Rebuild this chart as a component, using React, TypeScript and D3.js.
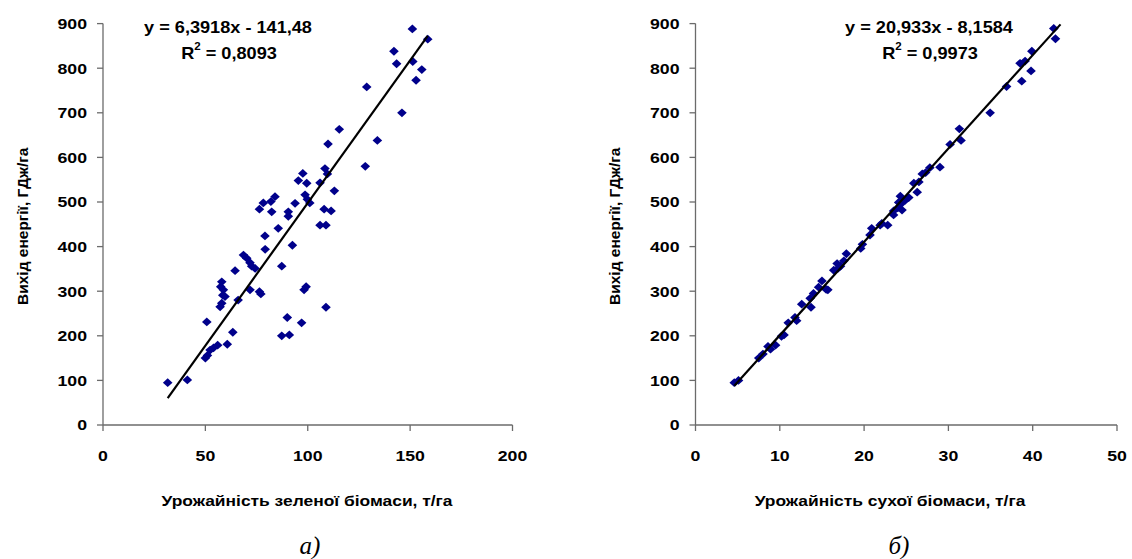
import React, { useEffect, useRef } from "react";
import * as d3 from "d3";

const WIDTH = 1132;
const HEIGHT = 559;

// урожайність зеленої біомаси, т/га
const greenYield = [
  31.6, 41.2, 50, 51, 52.3, 54, 56, 50.7, 60.7, 63.4, 57.2, 58, 58.5, 59.6, 58.8,
  57.5, 58, 66, 64.5, 68.6, 70.2, 71.8, 72.6, 74.3, 71.8, 76.4, 77.1, 79.2, 79.1,
  85.6, 87.3, 92.5, 90, 87.3, 91, 97, 98.2, 99.2, 108.9, 106, 108.9, 90.5, 90.5,
  76.4, 78.3, 82, 84, 82.4, 93.8, 98.7, 99.8, 101, 108, 111.4, 95.4, 99.5, 106,
  113, 97.6, 109.6, 108.4, 109.9, 115.4, 128.1, 134, 128.8, 146, 152.9, 155.7,
  151.3, 143.4, 142.1, 151.1, 158.6,
];
const greenEnergy = [
  95, 101, 150, 156, 168, 173, 179, 231, 181, 208, 265, 273, 291, 288, 303, 310,
  321, 280, 346, 381, 374, 364, 356, 351, 303, 299, 294, 394, 424, 441, 356, 403,
  241, 200, 202, 229, 303, 310, 264, 448, 448, 468, 478, 484, 498, 501, 512, 478,
  497, 516, 506, 498, 484, 480, 548, 542, 543, 525, 564, 563, 575, 630, 663, 580,
  638, 758, 700, 773, 797, 815, 810, 838, 888, 865,
];

// урожайність сухої біомаси, т/га
const dryYield = [
  4.6, 5.1, 7.5, 8.0, 8.6, 8.9, 9.5, 10.2, 10.5, 11.0, 11.8, 12.0, 12.6, 13.7,
  13.6, 14.0, 14.6, 15.0, 15.5, 15.7, 16.4, 16.9, 17.2, 16.8, 17.6, 17.9, 19.6,
  19.8, 20.7, 20.9, 21.9, 22.1, 22.8, 23.5, 23.5, 24.0, 24.5, 24.4, 24.1, 24.9,
  24.3, 25.3, 26.3, 25.9, 26.5, 26.9, 27.3, 27.8, 29.0, 30.2, 31.5, 31.3, 34.95,
  36.9, 38.7, 39.8, 38.5, 39.1, 39.9, 42.5, 42.7,
];
const dryEnergy = [
  95, 100, 150, 159, 176, 170, 179, 199, 202, 229, 241, 234, 271, 264, 284, 295,
  309, 323, 304, 303, 347, 351, 356, 362, 368, 384, 396, 405, 426, 441, 448, 452,
  448, 471, 480, 487, 482, 496, 499, 504, 513, 510, 522, 542, 545, 563, 566, 577,
  578, 629, 638, 664, 700, 759, 771, 794, 811, 816, 838, 889, 866,
];

const greenTicks = [0, 50, 100, 150, 200];
const dryTicks = [0, 10, 20, 30, 40, 50];
const energyTicks = [0, 100, 200, 300, 400, 500, 600, 700, 800, 900];

const panels = [
  {
    xs: greenYield,
    ys: greenEnergy,
    xTicks: greenTicks,
    slope: 6.3918,
    intercept: -141.48,
    trendEnd: 158.6,
    equation: "y = 6,3918x - 141,48",
    r2: "0,8093",
    xTitle: "Урожайність зеленої біомаси, т/га",
    caption: "а)",
    left: 103,
    right: 512.5,
    eqX: 228,
    titleX: 307,
    captionX: 310,
  },
  {
    xs: dryYield,
    ys: dryEnergy,
    xTicks: dryTicks,
    slope: 20.933,
    intercept: -8.1584,
    trendEnd: 43.3,
    equation: "y = 20,933x - 8,1584",
    r2: "0,9973",
    xTitle: "Урожайність сухої біомаси, т/га",
    caption: "б)",
    left: 695.5,
    right: 1117,
    eqX: 929,
    titleX: 890,
    captionX: 899,
  },
];

const TOP = 23.6;
const BOTTOM = 425;
const FONT = "'Liberation Sans', Arial, sans-serif";
const AXIS = "#6b6b6b";
const STRETCH = 1.22;

function App() {
  const ref = useRef<SVGSVGElement>(null);

  useEffect(() => {
    if (!ref.current) return;
    const svg = d3.select(ref.current);
    svg.selectAll("*").remove();

    const yScale = d3.scaleLinear().domain([0, 900]).range([BOTTOM, TOP]);

    panels.forEach((p) => {
      const xMax = p.xTicks[p.xTicks.length - 1];
      const xScale = d3.scaleLinear().domain([0, xMax]).range([p.left, p.right]);
      const g = svg.append("g");

      const label = (x: number, y: number, text: string, size: number, k = STRETCH) =>
        g
          .append("text")
          .attr("transform", `translate(${x},${y}) scale(${k},1)`)
          .attr("text-anchor", "middle")
          .attr("dominant-baseline", "central")
          .attr("font-family", FONT)
          .attr("font-weight", 700)
          .attr("font-size", size)
          .attr("fill", "#000")
          .text(text);

      // axes
      g.append("line")
        .attr("x1", p.left).attr("x2", p.left)
        .attr("y1", TOP).attr("y2", BOTTOM)
        .attr("stroke", AXIS).attr("stroke-width", 1.3);
      g.append("line")
        .attr("x1", p.left).attr("x2", p.right)
        .attr("y1", BOTTOM).attr("y2", BOTTOM)
        .attr("stroke", AXIS).attr("stroke-width", 1.3);

      energyTicks.forEach((t) => {
        g.append("line")
          .attr("x1", p.left - 6).attr("x2", p.left)
          .attr("y1", yScale(t)).attr("y2", yScale(t))
          .attr("stroke", AXIS).attr("stroke-width", 1.3);
        g.append("text")
          .attr("transform", `translate(${p.left - 16},${yScale(t)}) scale(${STRETCH},1)`)
          .attr("text-anchor", "end")
          .attr("dominant-baseline", "central")
          .attr("font-family", FONT)
          .attr("font-weight", 700)
          .attr("font-size", 14.5)
          .text(t);
      });

      p.xTicks.forEach((t) => {
        g.append("line")
          .attr("x1", xScale(t)).attr("x2", xScale(t))
          .attr("y1", BOTTOM).attr("y2", BOTTOM + 6)
          .attr("stroke", AXIS).attr("stroke-width", 1.3);
        label(xScale(t), 455.5, String(t), 14.5);
      });

      // axis titles
      label(p.titleX, 501, p.xTitle, 14.5, 1.2);
      g.append("text")
        .attr("transform", `translate(${p.left - 81},${(TOP + BOTTOM) / 2 + 2}) rotate(-90)`)
        .attr("text-anchor", "middle")
        .attr("dominant-baseline", "central")
        .attr("font-family", FONT)
        .attr("font-weight", 700)
        .attr("font-size", 15.5)
        .text("Вихід енергії, ГДж/га");

      // points
      g.selectAll("path.pt")
        .data(p.xs.map((x, i) => [x, p.ys[i]]))
        .enter()
        .append("path")
        .attr("class", "pt")
        .attr("d", "M0,-4.4L4.8,0L0,4.4L-4.8,0Z")
        .attr("transform", (d) => `translate(${xScale(d[0])},${yScale(d[1])})`)
        .attr("fill", "#00008b");

      // linear trend
      const x0 = d3.min(p.xs) as number;
      const trend = [x0, p.trendEnd].map((x) => [x, p.slope * x + p.intercept]);
      g.append("path")
        .attr(
          "d",
          d3
            .line<number[]>()
            .x((d) => xScale(d[0]))
            .y((d) => yScale(d[1]))(trend)
        )
        .attr("stroke", "#000")
        .attr("stroke-width", 2.2)
        .attr("fill", "none");

      label(p.eqX, 27, p.equation, 16.5, 1.1);
      const r2 = g
        .append("text")
        .attr("transform", `translate(${p.eqX + 1},${53.5}) scale(1.1,1)`)
        .attr("text-anchor", "middle")
        .attr("dominant-baseline", "central")
        .attr("font-family", FONT)
        .attr("font-weight", 700)
        .attr("font-size", 16.5);
      r2.append("tspan").text("R");
      r2.append("tspan").attr("font-size", 10.5).attr("dy", -7).text("2");
      r2.append("tspan").attr("dy", 7).text(` = ${p.r2}`);

      g.append("text")
        .attr("x", p.captionX)
        .attr("y", 545)
        .attr("text-anchor", "middle")
        .attr("dominant-baseline", "central")
        .attr("font-family", "'Liberation Serif', 'Times New Roman', serif")
        .attr("font-style", "italic")
        .attr("font-size", 25)
        .text(p.caption);
    });
  }, []);

  return (
    <svg
      ref={ref}
      width={WIDTH}
      height={HEIGHT}
      style={{ position: "absolute", left: 0, top: 0, background: "#fff" }}
    />
  );
}

export default App;
